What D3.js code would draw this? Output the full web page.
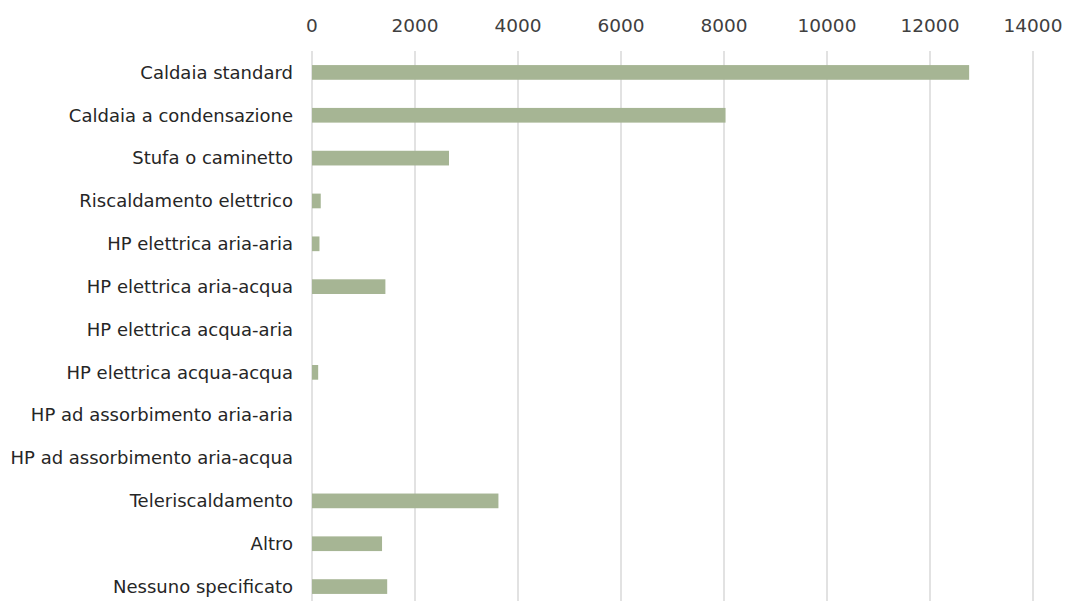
<!DOCTYPE html>
<html><head><meta charset="utf-8">
<script src="https://cdn.jsdelivr.net/npm/d3@7"></script>
<style>html,body{margin:0;padding:0;background:#fff;}svg{display:block;}</style>
</head><body>
<svg id="chart" width="1067" height="601"></svg>
<script>
const categories = ["Caldaia standard","Caldaia a condensazione","Stufa o caminetto","Riscaldamento elettrico","HP elettrica aria-aria","HP elettrica aria-acqua","HP elettrica acqua-aria","HP elettrica acqua-acqua","HP ad assorbimento aria-aria","HP ad assorbimento aria-acqua","Teleriscaldamento","Altro","Nessuno specificato"];
const values = [12760, 8030, 2660, 170, 145, 1425, 0, 120, 0, 0, 3620, 1360, 1460];
const tickValues = [0, 2000, 4000, 6000, 8000, 10000, 12000, 14000];

const svg = d3.select("#chart");
const x = d3.scaleLinear().domain([0, 14000]).range([312, 1033]);
const y = d3.scaleBand().domain(categories).range([51, 608]).paddingInner(0.657).paddingOuter(0.3285);

svg.append("g").selectAll("line").data(tickValues).join("line")
  .attr("x1", d => x(d)).attr("x2", d => x(d))
  .attr("y1", 51).attr("y2", 601)
  .attr("stroke", "#d9d9d9").attr("stroke-width", 1.5);

svg.append("g").selectAll("text").data(tickValues).join("text")
  .attr("x", d => x(d)).attr("y", 25.5).attr("dy", "0.35em")
  .attr("text-anchor", "middle")
  .attr("font-family", "DejaVu Sans").attr("font-size", 18.5).attr("fill", "#404040")
  .text(d => d);

svg.append("g").selectAll("rect").data(categories).join("rect")
  .attr("x", x(0)).attr("y", d => y(d))
  .attr("width", (d, i) => x(values[i]) - x(0))
  .attr("height", y.bandwidth())
  .attr("fill", "#a6b594");

svg.append("g").selectAll("text").data(categories).join("text")
  .attr("x", 293).attr("y", d => y(d) + y.bandwidth() / 2).attr("dy", "0.35em")
  .attr("text-anchor", "end")
  .attr("font-family", "DejaVu Sans").attr("font-size", 18).attr("fill", "#262626")
  .text(d => d);
</script>
</body></html>
